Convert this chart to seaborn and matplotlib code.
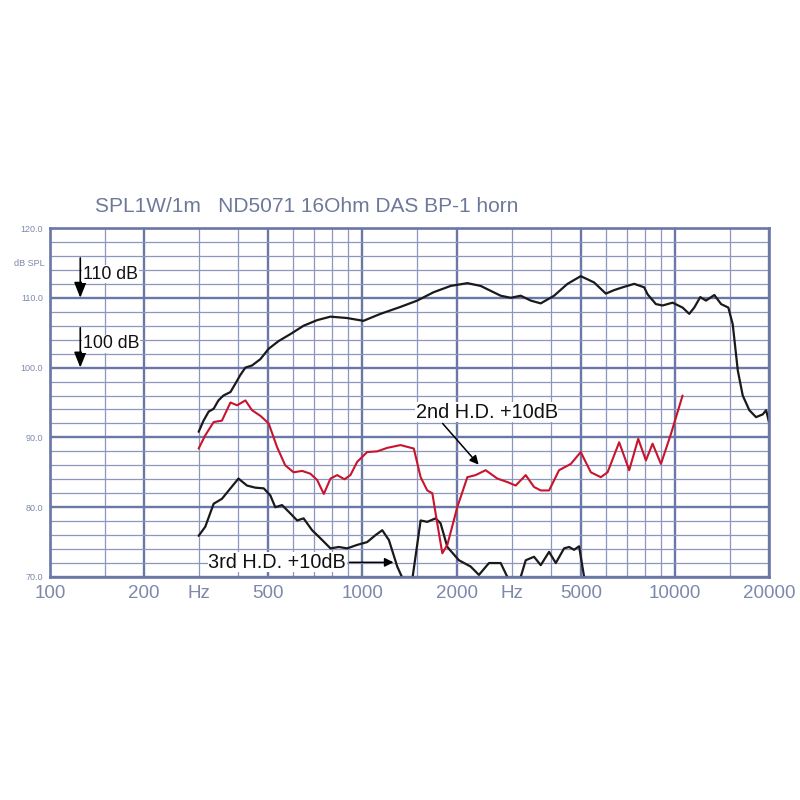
import numpy as np
import pandas as pd
import matplotlib
matplotlib.use("Agg")
import matplotlib.pyplot as plt
import seaborn as sns

# ---------------- data ----------------
spl_freq = [299, 310, 322, 334, 346, 359, 378, 392, 406, 422, 443, 471, 501, 539, 588,
            648, 716, 790, 893, 1007, 1142, 1324, 1497, 1689, 1915, 2166, 2389, 2769,
            2982, 3209, 3456, 3720, 4104, 4531, 4995, 5511, 6009, 6388, 6798, 7407, 7972,
            8175, 8690, 9130, 9830, 10580, 11110, 11530, 12050, 12570, 13370, 14050,
            14820, 15310, 15890, 16480, 17300, 18180, 19100, 19580, 20000]
spl_db = [90.8, 92.4, 93.7, 94.1, 95.3, 96.0, 96.5, 97.7, 98.9, 100.0, 100.3, 101.2,
          102.7, 103.8, 104.8, 106.0, 106.8, 107.3, 107.1, 106.7, 107.7, 108.7, 109.6,
          110.8, 111.7, 112.1, 111.7, 110.3, 110.0, 110.3, 109.6, 109.2, 110.3, 112.0,
          113.1, 112.2, 110.6, 111.1, 111.5, 112.0, 111.5, 110.5, 109.1, 108.9, 109.3,
          108.6, 107.7, 108.6, 110.1, 109.6, 110.4, 109.1, 108.6, 106.2, 99.6, 96.0,
          93.9, 92.9, 93.3, 93.9, 92.2]

hd2_freq = [299, 314, 334, 355, 378, 397, 422, 443, 471, 501, 533, 566, 602, 641, 681,
            716, 752, 790, 830, 876, 915, 962, 1035, 1115, 1200, 1324, 1460, 1535, 1612,
            1673, 1735, 1801, 1869, 2011, 2166, 2302, 2479, 2702, 2909, 3093, 3330, 3540,
            3720, 3955, 4258, 4642, 4995, 5381, 5792, 6087, 6630, 7139, 7629, 8075, 8480,
            9020, 9710, 10580]
hd2_db = [88.4, 90.3, 92.2, 92.4, 95.0, 94.6, 95.3, 93.9, 93.1, 92.0, 88.6, 86.0, 85.0,
          85.2, 84.8, 83.9, 81.9, 84.1, 84.6, 84.0, 84.6, 86.5, 87.9, 88.0, 88.5, 88.9,
          88.4, 84.3, 82.4, 82.0, 77.7, 73.4, 74.6, 80.0, 84.3, 84.6, 85.3, 84.1, 83.6,
          83.1, 84.6, 82.9, 82.4, 82.4, 85.3, 86.2, 87.9, 85.0, 84.3, 85.0, 89.3, 85.3,
          89.8, 86.7, 89.1, 86.2, 90.5, 96.0]

hd3_freq = [299, 314, 334, 355, 378, 401, 427, 454, 483, 507, 526, 553, 588, 618, 648,
            690, 743, 790, 840, 893, 962, 1035, 1101, 1157, 1215, 1292, 1350, 1394, 1443,
            1535, 1612, 1714, 1778, 1869, 2035, 2219, 2359, 2540, 2769, 2909, 3048, 3209,
            3330, 3540, 3720, 3955, 4156, 4418, 4583, 4756, 4935, 5121, 5200]
hd3_db = [75.9, 77.2, 80.5, 81.2, 82.7, 84.1, 83.1, 82.8, 82.7, 81.7, 80.0, 80.3, 79.1,
          78.1, 78.4, 76.7, 75.3, 74.1, 74.3, 74.1, 74.6, 75.0, 76.0, 76.7, 75.3, 71.5,
          69.6, 67.0, 69.6, 78.1, 77.9, 78.4, 77.7, 74.3, 72.4, 71.5, 70.3, 72.0, 72.0,
          70.0, 68.1, 70.0, 72.4, 72.9, 71.7, 73.6, 72.0, 74.1, 74.3, 73.9, 74.4, 70.0,
          68.9]

x_major = [100, 200, 500, 1000, 2000, 5000, 10000, 20000]
x_major_labels = ["100", "200", "500", "1000", "2000", "5000", "10000", "20000"]
x_minor = [150, 300, 400, 600, 700, 800, 900, 1500, 3000, 4000, 6000, 7000, 8000, 9000, 15000]
x_minor_labels = ["", "Hz", "", "", "", "", "", "", "Hz", "", "", "", "", "", ""]
y_major = [70, 80, 90, 100, 110, 120]
y_major_labels = ["70.0", "80.0", "90.0", "100.0", "110.0", "120.0"]
y_minor = [72, 74, 76, 78, 82, 84, 86, 88, 92, 94, 96, 98, 102, 104, 106, 108,
           112, 114, 116, 118]

title = "SPL1W/1m   ND5071 16Ohm DAS BP-1 horn"

# ---------------- style ----------------
sns.set_theme(style="white")
plt.rcParams["font.family"] = ["Liberation Sans", "DejaVu Sans"]

BOLD = "#6b77a6"
THIN = "#8d97be"
LABEL = "#7d88ab"
RED = "#c8142c"

fig = plt.figure(figsize=(8, 8), dpi=100)
fig.patch.set_facecolor("white")
ax = fig.add_axes([50 / 800, 1 - 577 / 800, 719 / 800, 349 / 800])

df_spl = pd.DataFrame({"f": spl_freq, "db": spl_db})
df_hd2 = pd.DataFrame({"f": hd2_freq, "db": hd2_db})
df_hd3 = pd.DataFrame({"f": hd3_freq, "db": hd3_db})

line_kw = dict(estimator=None, sort=False, solid_joinstyle="round", solid_capstyle="round")
sns.lineplot(data=df_spl, x="f", y="db", ax=ax, color="#1a1a1a", lw=1.6, **line_kw)
sns.lineplot(data=df_hd3, x="f", y="db", ax=ax, color="#1a1a1a", lw=1.6, **line_kw)
sns.lineplot(data=df_hd2, x="f", y="db", ax=ax, color=RED, lw=1.5, **line_kw)

ax.set_xscale("log")
ax.set_xlim(100, 20000)
ax.set_ylim(70, 120)
ax.set_xlabel("")
ax.set_ylabel("")

ax.set_xticks(x_major, x_major_labels)
ax.set_xticks(x_minor, x_minor_labels, minor=True)
ax.set_yticks(y_major, y_major_labels)
ax.set_yticks(y_minor, minor=True)
ax.tick_params(which="both", length=0)
ax.tick_params(axis="x", which="both", labelsize=13.5, labelcolor=LABEL, pad=6)
ax.tick_params(axis="y", which="both", labelsize=6.5, labelcolor=LABEL, pad=5)

ax.set_axisbelow(True)
ax.grid(which="major", color=BOLD, lw=1.7)
ax.grid(which="minor", color=THIN, lw=0.9)
for s in ax.spines.values():
    s.set_color(BOLD)
    s.set_linewidth(1.9)

# dB SPL label
ax.text(-0.008, 114.9, "dB SPL", transform=ax.get_yaxis_transform(), ha="right",
        va="center", fontsize=6.5, color=LABEL)

# title
fig.text(95 / 800, 1 - 212 / 800, title, fontsize=15, color="#6e7899", va="baseline", ha="left")

# level markers
arrow_kw = dict(arrowstyle="-|>,head_length=0.55,head_width=0.22", color="black", lw=1.2,
                mutation_scale=17, shrinkA=0, shrinkB=0)
ax.annotate("", xy=(125, 110), xytext=(125, 115.7), arrowprops=arrow_kw)
ax.annotate("", xy=(125, 100), xytext=(125, 105.7), arrowprops=arrow_kw)
box = dict(facecolor="white", edgecolor="none", pad=0.5)
ax.text(127.5, 113.4, "110 dB", fontsize=12.8, color="#111111", va="center", ha="left", bbox=box)
ax.text(127.5, 103.4, "100 dB", fontsize=12.8, color="#111111", va="center", ha="left", bbox=box)

# harmonic labels
ax.annotate("", xy=(2354, 86.1), xytext=(1805, 92.0),
            arrowprops=dict(arrowstyle="-|>", color="black", lw=1.1, mutation_scale=13,
                            shrinkA=0, shrinkB=0))
ax.text(1479, 93.6, "2nd H.D. +10dB", fontsize=14.3, color="#111111", va="center", ha="left", bbox=box)
ax.annotate("", xy=(1257, 72.1), xytext=(908, 72.1),
            arrowprops=dict(arrowstyle="-|>", color="black", lw=1.1, mutation_scale=13,
                            shrinkA=0, shrinkB=0))
ax.text(321, 72.1, "3rd H.D. +10dB", fontsize=14.3, color="#111111", va="center", ha="left", bbox=box)

fig.savefig("out.png", dpi=100, facecolor="white")
